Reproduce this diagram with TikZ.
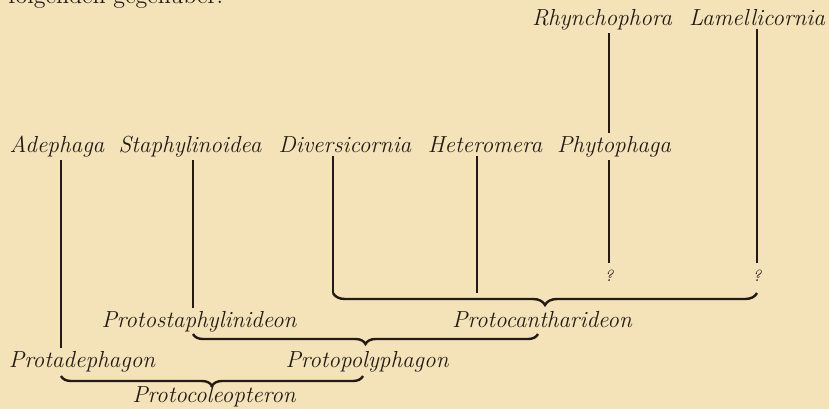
\documentclass[tikz,border=0pt]{standalone}
\usepackage{fontspec}
\usetikzlibrary{decorations.pathreplacing}

\begin{document}
\begin{tikzpicture}[x=0.5pt,y=-0.5pt,
  taxon/.style={font=\fontsize{11.6}{14}\selectfont\itshape,
    text=inkBrown,anchor=base,inner sep=1.5pt},
  query/.style={font=\fontsize{8}{9}\selectfont\itshape,text=inkBrown,inner sep=3.5pt},
  stem/.style={draw=inkBrown,line width=1.3pt},
  cladebrace/.style={draw=inkBrown,line width=1.2pt,decorate,
    decoration={brace,mirror,amplitude=#1}}]
\definecolor{paperTone}{HTML}{F4E3B9}
\definecolor{inkBrown}{HTML}{231A12}
\useasboundingbox (0,0) rectangle (829,409);
\fill[paperTone] (0,0) rectangle (829,409);
% cut-off line of the page text above
\node[anchor=base west,text=inkBrown,inner sep=0pt,
  font=\fontsize{12}{14}\selectfont\addfontfeature{LetterSpace=8}] (pagetext) at (8,3) {folgenden gegenüber:};
% recent groups
\foreach \nm/\x/\y/\lab in {adephaga/57/152/Adephaga,staphyl/190/152/Staphylinoidea,
    diversi/345/152/Diversicornia,hetero/485/152/Heteromera,phyto/614/152/Phytophaga,
    rhyncho/602/25/Rhynchophora,lamelli/757/25/Lamellicornia} {
  \node[taxon] (\nm) at (\x,\y) {\lab};
}
% ancestral forms
\node[taxon] (protadeph) at (82,367) {Protadephagon};
\node[taxon] (protostaph) at (199,327) {Protostaphylinideon};
\node[taxon] (protocanth) at (542,327) {Protocantharideon};
\node[taxon] (protopoly) at (367,367) {Protopolyphagon};
\node[taxon] (protocoleo) at (214,402) {Protocoleopteron};
\node[query] (q1) at (609,276) {?};
\node[query] (q2) at (757,276) {?};
% brace ends
\coordinate (canL) at (333,293);
\coordinate (canR) at (757,293);
\coordinate (polyL) at (193,334);
\coordinate (polyR) at (538,334);
\coordinate (coleoL) at (61,376);
\coordinate (coleoR) at (363,376);
\coordinate (heteroEnd) at (477,293);
% stems
\draw[stem] (coleoL |- adephaga.south) -- (coleoL |- protadeph.north);
\draw[stem] (polyL |- staphyl.south) -- (polyL |- protostaph.north);
\draw[stem] (canL |- diversi.south) -- (canL);
\draw[stem] (heteroEnd |- hetero.south) -- (heteroEnd);
\draw[stem] (q1.north |- rhyncho.south) -- (q1.north |- phyto.north);
\draw[stem] (q1.north |- phyto.south) -- (q1.north);
\draw[stem] (q2.north |- lamelli.south) -- (q2.north);
% braces
\draw[cladebrace=6pt] (canL) -- (canR);
\draw[cladebrace=5pt] (polyL) -- (polyR);
\draw[cladebrace=5pt] (coleoL) -- (coleoR);
\end{tikzpicture}
\end{document}
